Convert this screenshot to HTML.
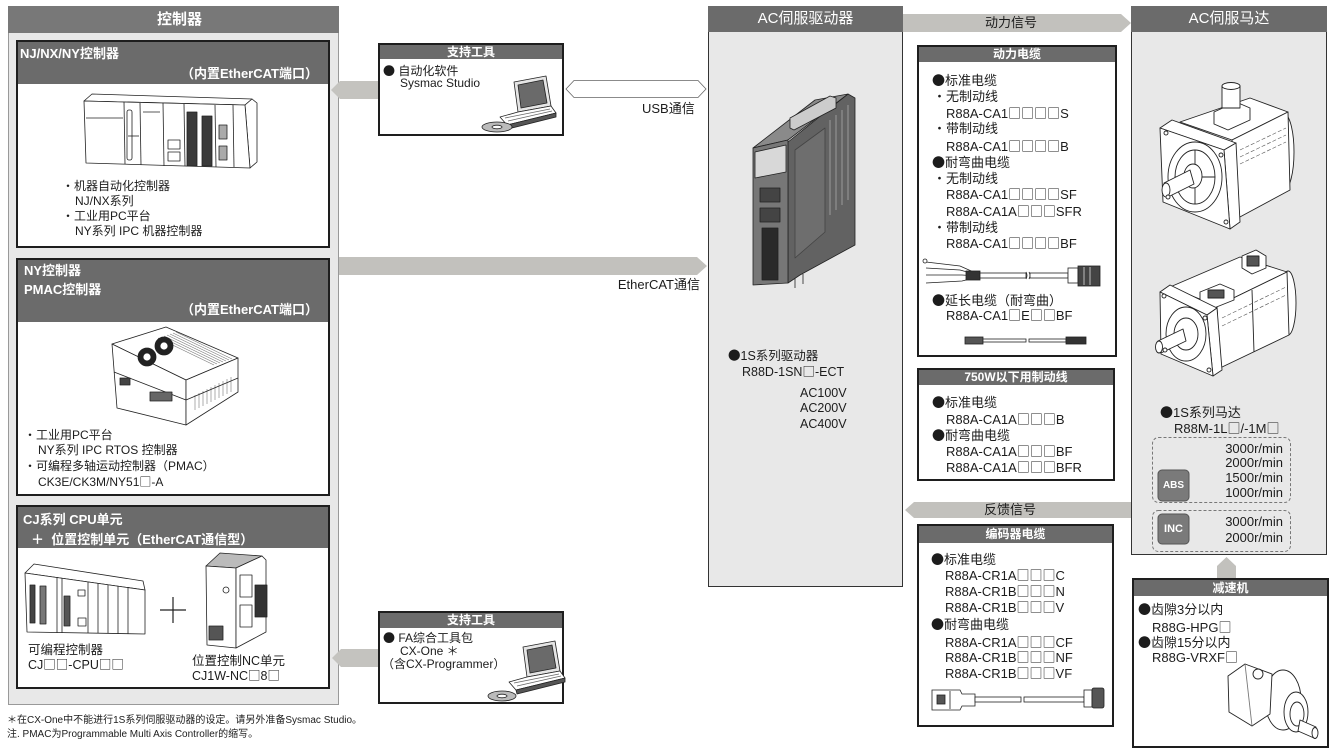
<!DOCTYPE html>
<html><head><meta charset="utf-8">
<style>
*{margin:0;padding:0;box-sizing:border-box}
html,body{width:1340px;height:754px;overflow:hidden;background:#fff}
body{position:relative;font-family:"Liberation Sans","Noto Sans CJK SC",sans-serif;color:#1c1c1c}
svg{position:absolute;left:0;top:0}
.t{position:absolute;white-space:nowrap;font-size:13px;line-height:16px}
.s{font-size:12px;line-height:15px}
.d{font-size:12.5px;line-height:16px}
.w{color:#fff;font-weight:bold}
.h{position:absolute;color:#fff;font-weight:bold;text-align:center;font-size:12px;white-space:nowrap}
.b{font-family:"Noto Sans CJK SC",sans-serif}
.f{font-size:10px;line-height:12px}
</style></head><body>
<svg width="1340" height="754" viewBox="0 0 1340 754">
<!-- controller panel -->
<rect x="8.5" y="6.5" width="330" height="698" fill="#e8e8e8" stroke="#999"/>
<rect x="8" y="6" width="331" height="27" fill="#787878"/>
<rect x="17" y="41" width="312" height="206" fill="#fff" stroke="#1e1e1e" stroke-width="2"/>
<rect x="18" y="42" width="310" height="42" fill="#6b6b6b"/>
<rect x="17" y="259" width="312" height="236" fill="#fff" stroke="#1e1e1e" stroke-width="2"/>
<rect x="18" y="260" width="310" height="62" fill="#6b6b6b"/>
<rect x="17" y="506" width="312" height="182" fill="#fff" stroke="#1e1e1e" stroke-width="2"/>
<rect x="18" y="507" width="310" height="41" fill="#6b6b6b"/>

<!-- arrows -->
<polygon points="331,90 340,81 380,81 380,99 340,99" fill="#c4c3bf"/>
<polygon points="566,89 574,80.5 698,80.5 706,89 698,97.5 574,97.5" fill="#fff" stroke="#666" stroke-width="0.8"/>
<polygon points="339,257 697,257 707,266 697,275 339,275" fill="#c2c1bd"/>
<polygon points="332,658 341,649 380,649 380,667 341,667" fill="#c4c3bf"/>
<polygon points="903,14 1121,14 1131,23 1121,32 903,32" fill="#c2c1bd"/>
<polygon points="905,510 914,502 1131,502 1131,518 914,518" fill="#c2c1bd"/>
<polygon points="1217,579 1217,566 1226.5,557 1236,566 1236,579" fill="#c2c1bd"/>

<!-- support boxes -->
<rect x="379" y="44" width="184" height="91" fill="#fff" stroke="#1e1e1e" stroke-width="2"/>
<rect x="380" y="45" width="182" height="14" fill="#6b6b6b"/>
<rect x="379" y="612" width="184" height="91" fill="#fff" stroke="#1e1e1e" stroke-width="2"/>
<rect x="380" y="613" width="182" height="15" fill="#6b6b6b"/>

<!-- drive panel -->
<rect x="708.5" y="6.5" width="194" height="580" fill="#e8e8e8" stroke="#333"/>
<rect x="708" y="6" width="195" height="26" fill="#6b6b6b"/>

<!-- cable boxes -->
<rect x="918" y="46" width="198" height="310" fill="#fff" stroke="#1e1e1e" stroke-width="2"/>
<rect x="919" y="47" width="196" height="15" fill="#6b6b6b"/>
<rect x="918" y="369" width="196" height="111" fill="#fff" stroke="#1e1e1e" stroke-width="2"/>
<rect x="919" y="370" width="194" height="15" fill="#6b6b6b"/>
<rect x="918" y="525" width="195" height="201" fill="#fff" stroke="#1e1e1e" stroke-width="2"/>
<rect x="919" y="526" width="193" height="17" fill="#6b6b6b"/>

<!-- motor panel -->
<rect x="1131.5" y="6.5" width="195" height="548" fill="#e8e8e8" stroke="#333"/>
<rect x="1131" y="6" width="196" height="26" fill="#6b6b6b"/>
<rect x="1152.5" y="437.5" width="138" height="65" rx="6" fill="none" stroke="#777" stroke-dasharray="3,2"/>
<rect x="1152.5" y="510.5" width="138" height="41" rx="6" fill="none" stroke="#777" stroke-dasharray="3,2"/>
<rect x="1158" y="470" width="31" height="31" rx="4" fill="#7a7a7a" stroke="#555"/>
<rect x="1158" y="514" width="31" height="30" rx="4" fill="#7a7a7a" stroke="#555"/>

<!-- reducer box -->
<rect x="1133" y="579" width="195" height="168" fill="#fff" stroke="#1e1e1e" stroke-width="2"/>
<rect x="1134" y="580" width="193" height="16" fill="#6b6b6b"/>

<!-- NJ controller image -->
<g stroke="#222" stroke-width="0.8" fill="#fff" stroke-linejoin="round">
 <polygon points="84,101 92,94 252,99 245,105"/>
 <polygon points="245,105 252,99 257,103 257,162 250,168"/>
 <polygon points="84,101 245,105 250,168 86,163"/>
 <line x1="124" y1="102" x2="125" y2="164"/>
 <line x1="140" y1="103" x2="141" y2="165"/>
 <line x1="163" y1="103" x2="164" y2="166"/>
 <line x1="184" y1="104" x2="185" y2="166"/>
 <line x1="215" y1="105" x2="216" y2="167"/>
 <line x1="233" y1="105" x2="234" y2="167"/>
 <rect x="127" y="110" width="5" height="50" rx="2"/>
 <rect x="187" y="112" width="10" height="54" fill="#3a3a3a"/>
 <rect x="202" y="116" width="10" height="50" fill="#3a3a3a"/>
 <rect x="219" y="125" width="8" height="14" fill="#aaa"/>
 <rect x="219" y="146" width="8" height="14" fill="#aaa"/>
 <rect x="168" y="140" width="12" height="9"/>
 <rect x="168" y="152" width="12" height="9"/>
 <line x1="86" y1="118" x2="123" y2="118"/>
 <line x1="128" y1="136" x2="139" y2="136"/>
 <line x1="143" y1="112" x2="160" y2="112"/>
</g>

<!-- NY PMAC image -->
<g stroke="#222" stroke-width="0.8" fill="#fff" stroke-linejoin="round">
 <polygon points="112,344 166,327 238,358 186,380"/>
 <polygon points="112,344 186,380 186,425 117,408"/>
 <polygon points="186,380 238,358 238,392 186,425"/>
 <g stroke="#777" stroke-width="0.6">
  <line x1="158" y1="338" x2="214" y2="365"/>
  <line x1="161" y1="337" x2="217" y2="364"/>
  <line x1="164" y1="336" x2="220" y2="363"/>
  <line x1="167" y1="335" x2="223" y2="362"/>
  <line x1="170" y1="334" x2="226" y2="361"/>
  <line x1="173" y1="333" x2="229" y2="360"/>
  <line x1="176" y1="332" x2="232" y2="359"/>
  <line x1="195" y1="395" x2="195" y2="410"/>
  <line x1="199" y1="393" x2="199" y2="408"/>
  <line x1="203" y1="391" x2="203" y2="406"/>
  <line x1="207" y1="389" x2="207" y2="404"/>
  <line x1="211" y1="387" x2="211" y2="402"/>
  <line x1="215" y1="385" x2="215" y2="400"/>
  <line x1="219" y1="383" x2="219" y2="398"/>
  <line x1="223" y1="381" x2="223" y2="396"/>
  <line x1="227" y1="379" x2="227" y2="394"/>
  <line x1="231" y1="377" x2="231" y2="392"/>
 </g>
 <line x1="114" y1="372" x2="186" y2="400"/>
 <line x1="186" y1="400" x2="238" y2="378"/>
 <rect x="120" y="378" width="10" height="7" fill="#444"/>
 <rect x="150" y="392" width="22" height="9" fill="#666"/>
 <circle cx="147" cy="357" r="9" fill="#222"/><circle cx="147" cy="357" r="4" fill="#fff"/>
 <circle cx="164" cy="346" r="9" fill="#222"/><circle cx="164" cy="346" r="4" fill="#fff"/>
</g>

<!-- CJ PLC image -->
<g stroke="#222" stroke-width="0.8" fill="#fff" stroke-linejoin="round">
 <polygon points="25,573 34,564 143,581 145,590"/>
 <polygon points="25,573 145,590 145,634 27,632"/>
 <line x1="57" y1="577" x2="57" y2="633"/>
 <line x1="62" y1="578" x2="62" y2="633"/>
 <line x1="88" y1="582" x2="88" y2="633"/>
 <line x1="98" y1="583" x2="98" y2="633"/>
 <line x1="108" y1="585" x2="108" y2="633"/>
 <line x1="118" y1="586" x2="118" y2="634"/>
 <line x1="128" y1="587" x2="128" y2="634"/>
 <rect x="30" y="585" width="5" height="38" fill="#444"/>
 <rect x="40" y="586" width="6" height="38" fill="#777"/>
 <rect x="64" y="596" width="6" height="30" fill="#555"/>
 <rect x="78" y="590" width="7" height="6"/>
 <rect x="78" y="618" width="8" height="8"/>
</g>
<line x1="160" y1="610" x2="186" y2="610" stroke="#222" stroke-width="1.2"/>
<line x1="173" y1="597" x2="173" y2="623" stroke="#222" stroke-width="1.2"/>

<!-- NC unit image -->
<g stroke="#222" stroke-width="0.8" fill="#fff" stroke-linejoin="round">
 <polygon points="206,566 220,553 262,556 236,568" fill="#bbb"/>
 <polygon points="206,566 236,568 236,648 207,645"/>
 <polygon points="236,568 262,556 266,560 266,632 236,648"/>
 <rect x="255" y="585" width="12" height="32" fill="#333"/>
 <rect x="209" y="626" width="14" height="14" fill="#555"/>
 <circle cx="226" cy="590" r="3"/>
 <rect x="240" y="575" width="12" height="22"/>
 <rect x="240" y="605" width="12" height="22"/>
</g>

<!-- laptop 1 -->
<g stroke="#222" stroke-width="0.8" stroke-linejoin="round">
 <polygon points="514,82 546,76 551,106 518,112" fill="#e5e5e5"/>
 <polygon points="518,85 543,80 547,103 521,108" fill="#6a6a6a"/>
 <polygon points="500,117 518,112 551,106 556,113 507,125" fill="#fff"/>
 <polygon points="507,125 556,113 556,117 508,129" fill="#555"/>
 <line x1="505" y1="118" x2="550" y2="109" stroke="#666"/>
 <line x1="508" y1="121" x2="552" y2="111" stroke="#666"/>
 <ellipse cx="497" cy="127" rx="15" ry="5" fill="#bbb"/>
 <ellipse cx="497" cy="127" rx="5" ry="1.8" fill="#fff"/>
</g>
<!-- laptop 2 -->
<g stroke="#222" stroke-width="0.8" stroke-linejoin="round" transform="translate(9,565)">
 <polygon points="514,82 546,76 551,106 518,112" fill="#e5e5e5"/>
 <polygon points="518,85 543,80 547,103 521,108" fill="#6a6a6a"/>
 <polygon points="500,117 518,112 551,106 556,113 507,125" fill="#fff"/>
 <polygon points="507,125 556,113 556,117 508,129" fill="#555"/>
 <line x1="505" y1="118" x2="550" y2="109" stroke="#666"/>
 <line x1="508" y1="121" x2="552" y2="111" stroke="#666"/>
</g>
<g stroke="#222" stroke-width="0.8">
 <ellipse cx="502" cy="696" rx="14" ry="5" fill="#bbb"/>
 <ellipse cx="502" cy="696" rx="5" ry="1.8" fill="#fff"/>
</g>

<!-- servo drive -->
<g stroke="#222" stroke-width="0.8" stroke-linejoin="round">
 <polygon points="788,142 848,94 855,98 855,245 800,275 788,283" fill="#626262"/>
 <polygon points="753,148 788,140 848,94 815,100" fill="#8a8a8a"/>
 <polygon points="753,148 788,140 788,283 753,285" fill="#777"/>
 <polygon points="755,152 786,145 786,172 755,178" fill="#d8d8d8"/>
 <rect x="760" y="188" width="20" height="14" fill="#444"/>
 <rect x="760" y="208" width="20" height="14" fill="#444"/>
 <rect x="762" y="228" width="16" height="52" fill="#2a2a2a"/>
 <polygon points="795,150 825,128 825,232 795,258" fill="#6e6e6e" stroke="#444"/>
 <g stroke="#aaa" stroke-width="0.8">
  <line x1="830" y1="120" x2="830" y2="215"/>
  <line x1="836" y1="115" x2="836" y2="210"/>
  <line x1="842" y1="110" x2="842" y2="205"/>
  <line x1="848" y1="105" x2="848" y2="200"/>
 </g>
 <polygon points="790,118 830,96 836,98 836,108 794,130 790,128" fill="#ccc"/>
 <line x1="795" y1="278" x2="795" y2="288"/>
 <line x1="803" y1="274" x2="803" y2="284"/>
</g>

<!-- power cable -->
<g stroke="#222" stroke-width="0.8" fill="#fff">
 <path d="M926,262 L960,266 L978,274 M926,268 L960,270 L978,275 M926,275 L962,275 L978,276 M926,283 L962,281 L978,277" fill="none"/>
 <circle cx="925" cy="261" r="2"/>
 <rect x="966" y="271" width="14" height="9" fill="#333"/>
 <rect x="980" y="273" width="46" height="5"/>
 <path d="M1026,272 q2,3.5 0,7 M1029,272 q2,3.5 0,7" fill="none"/>
 <rect x="1030" y="273" width="38" height="5"/>
 <rect x="1068" y="268" width="10" height="15"/>
 <rect x="1078" y="266" width="22" height="20" fill="#444"/>
 <line x1="1084" y1="267" x2="1084" y2="285" stroke="#ddd"/>
 <line x1="1090" y1="267" x2="1090" y2="285" stroke="#ddd"/>
</g>
<!-- extension cable -->
<g stroke="#222" stroke-width="0.8" fill="#fff">
 <rect x="965" y="337" width="18" height="7" fill="#555"/>
 <rect x="983" y="339" width="43" height="3"/>
 <rect x="1029" y="339" width="37" height="3"/>
 <rect x="1066" y="337" width="20" height="7" fill="#333"/>
</g>
<!-- encoder cable -->
<g stroke="#222" stroke-width="0.8" fill="#fff">
 <polygon points="932,690 960,690 962,694 975,694 975,706 962,706 960,710 932,710"/>
 <rect x="937" y="695" width="8" height="9" fill="#555"/>
 <line x1="950" y1="691" x2="950" y2="709"/>
 <rect x="975" y="697" width="46" height="5"/>
 <rect x="1024" y="697" width="60" height="5"/>
 <rect x="1084" y="690" width="8" height="17"/>
 <rect x="1092" y="688" width="12" height="20" rx="2" fill="#555"/>
</g>

<!-- motor 1 -->
<g stroke="#222" stroke-width="0.9" fill="#fff" stroke-linejoin="round">
 <ellipse cx="1284" cy="152" rx="10" ry="38"/>
 <polygon points="1180,122 1250,98 1288,112 1232,140"/>
 <polygon points="1232,140 1288,112 1290,190 1238,218"/>
 <g stroke="#555" stroke-dasharray="4,2" stroke-width="0.6">
  <line x1="1240" y1="150" x2="1286" y2="128"/>
  <line x1="1240" y1="157" x2="1286" y2="135"/>
  <line x1="1240" y1="164" x2="1286" y2="142"/>
 </g>
 <polygon points="1214,112 1236,102 1250,108 1250,120 1228,130 1214,124"/>
 <rect x="1222" y="86" width="18" height="22"/>
 <ellipse cx="1231" cy="86" rx="9" ry="3.5"/>
 <polygon points="1160,128 1172,120 1236,143 1224,150"/>
 <polygon points="1224,150 1236,143 1240,222 1230,229"/>
 <polygon points="1160,128 1224,150 1230,229 1163,202"/>
 <ellipse cx="1195" cy="177" rx="27" ry="35"/>
 <ellipse cx="1195" cy="177" rx="20" ry="27"/>
 <line x1="1195" y1="150" x2="1195" y2="204"/>
 <line x1="1175" y1="177" x2="1215" y2="177"/>
 <ellipse cx="1193" cy="176" rx="9" ry="12"/>
 <polygon points="1190,170 1164,183 1168,197 1194,184"/>
 <ellipse cx="1166" cy="190" rx="4" ry="7"/>
 <circle cx="1166" cy="133" r="2"/><circle cx="1221" cy="155" r="2"/>
 <circle cx="1226" cy="222" r="2"/><circle cx="1168" cy="197" r="2"/>
</g>

<!-- motor 2 -->
<g stroke="#222" stroke-width="0.9" fill="#fff" stroke-linejoin="round">
 <ellipse cx="1288" cy="303" rx="8" ry="32"/>
 <polygon points="1170,287 1240,257 1287,272 1217,306"/>
 <polygon points="1217,306 1287,272 1289,335 1220,368"/>
 <line x1="1252" y1="290" x2="1254" y2="352"/>
 <g stroke="#555" stroke-dasharray="4,2" stroke-width="0.6">
  <line x1="1222" y1="318" x2="1286" y2="287"/>
  <line x1="1222" y1="326" x2="1286" y2="295"/>
 </g>
 <polygon points="1242,256 1256,250 1266,256 1266,268 1252,274 1242,268"/>
 <rect x="1247" y="256" width="12" height="10" fill="#555"/>
 <polygon points="1200,292 1220,284 1234,290 1234,300 1214,308 1200,302"/>
 <rect x="1208" y="290" width="16" height="8" fill="#555"/>
 <polygon points="1160,292 1170,285 1217,308 1207,315"/>
 <polygon points="1207,315 1217,308 1222,370 1213,376"/>
 <polygon points="1160,292 1207,315 1213,376 1161,354"/>
 <ellipse cx="1186" cy="334" rx="20" ry="27"/>
 <ellipse cx="1186" cy="334" rx="12" ry="16"/>
 <polygon points="1183,329 1158,341 1161,353 1186,341"/>
 <ellipse cx="1159" cy="347" rx="3.5" ry="6"/>
 <circle cx="1164" cy="296" r="2"/><circle cx="1205" cy="318" r="2"/>
 <circle cx="1209" cy="370" r="2"/><circle cx="1165" cy="350" r="2"/>
</g>

<!-- reducer -->
<g stroke="#222" stroke-width="0.9" fill="#fff" stroke-linejoin="round">
 <ellipse cx="1283" cy="700" rx="18" ry="30"/>
 <polygon points="1228,676 1245,664 1272,674 1270,714 1252,726 1229,712"/>
 <line x1="1245" y1="664" x2="1252" y2="726" stroke="#777"/>
 <circle cx="1258" cy="674" r="5"/>
 <ellipse cx="1296" cy="712" rx="12" ry="20"/>
 <ellipse cx="1297" cy="714" rx="7" ry="12"/>
 <polygon points="1300,720 1316,727 1314,738 1298,731"/>
 <ellipse cx="1315" cy="733" rx="3" ry="5.5"/>
</g>
</svg>

<!-- Controller texts -->
<div class="t w" style="left:157px;top:6px;font-size:15px;line-height:27px">控制器</div>
<div class="t w" style="left:20px;top:46px">NJ/NX/NY控制器</div>
<div class="t w" style="right:1022px;top:66px">（内置EtherCAT端口）</div>
<div class="t s" style="left:62px;top:179px">・机器自动化控制器</div>
<div class="t s" style="left:75px;top:194px">NJ/NX系列</div>
<div class="t s" style="left:62px;top:209px">・工业用PC平台</div>
<div class="t s" style="left:75px;top:224px">NY系列 IPC 机器控制器</div>

<div class="t w" style="left:24px;top:263px">NY控制器</div>
<div class="t w" style="left:24px;top:282px">PMAC控制器</div>
<div class="t w" style="right:1022px;top:302px">（内置EtherCAT端口）</div>
<div class="t s" style="left:24px;top:428px">・工业用PC平台</div>
<div class="t s" style="left:38px;top:443px">NY系列 IPC RTOS 控制器</div>
<div class="t s" style="left:24px;top:459px">・可编程多轴运动控制器（PMAC）</div>
<div class="t s" style="left:38px;top:474px">CK3E/CK3M/NY51<span class="b">□</span>-A</div>

<div class="t w" style="left:23px;top:512px">CJ系列 CPU单元</div>
<div class="t w" style="left:31px;top:532px">＋&nbsp;&nbsp;位置控制单元（EtherCAT通信型）</div>
<div class="t d" style="left:28px;top:642px">可编程控制器</div>
<div class="t d" style="left:28px;top:656px">CJ<span class="b">□□</span>-CPU<span class="b">□□</span></div>
<div class="t d" style="left:192px;top:653px">位置控制NC单元</div>
<div class="t d" style="left:192px;top:667px">CJ1W-NC<span class="b">□</span>8<span class="b">□</span></div>

<div class="t f" style="left:7px;top:715px">＊在CX-One中不能进行1S系列伺服驱动器的设定。请另外准备Sysmac Studio。</div>
<div class="t f" style="left:7px;top:729px">注. PMAC为Programmable Multi Axis Controller的缩写。</div>

<!-- support tools -->
<div class="h" style="left:379px;width:184px;top:45px;line-height:14px">支持工具</div>
<div class="t s" style="left:383px;top:64px;line-height:13px"><span class="b">●</span> 自动化软件</div>
<div class="t s" style="left:400px;top:77px;line-height:13px">Sysmac Studio</div>
<div class="h" style="left:379px;width:184px;top:613px;line-height:15px">支持工具</div>
<div class="t s" style="left:383px;top:631px;line-height:13px"><span class="b">●</span> FA综合工具包</div>
<div class="t s" style="left:400px;top:645px;line-height:13px">CX-One ＊</div>
<div class="t s" style="left:382px;top:658px;line-height:13px">（含CX-Programmer）</div>

<div class="t" style="left:642px;top:101px">USB通信</div>
<div class="t" style="right:640px;top:277px">EtherCAT通信</div>

<!-- drive -->
<div class="t" style="left:708px;width:195px;top:6px;line-height:26px;font-size:15px;color:#fff;text-align:center">AC伺服驱动器</div>
<div class="t d" style="left:728px;top:347px"><span class="b">●</span>1S系列驱动器</div>
<div class="t d" style="left:742px;top:363px">R88D-1SN<span class="b">□</span>-ECT</div>
<div class="t d" style="left:800px;top:385px">AC100V</div>
<div class="t d" style="left:800px;top:400px">AC200V</div>
<div class="t d" style="left:800px;top:416px">AC400V</div>

<!-- signals -->
<div class="t" style="left:985px;top:15px">动力信号</div>
<div class="t" style="left:984px;top:502px">反馈信号</div>

<!-- power cable -->
<div class="h" style="left:918px;width:198px;top:47px;line-height:15px">动力电缆</div>
<div class="t" style="left:932px;top:72px"><span class="b">●</span>标准电缆</div>
<div class="t" style="left:933px;top:89px">・无制动线</div>
<div class="t" style="left:946px;top:105px">R88A-CA1<span class="b">□□□□</span>S</div>
<div class="t" style="left:933px;top:121px">・带制动线</div>
<div class="t" style="left:946px;top:138px">R88A-CA1<span class="b">□□□□</span>B</div>
<div class="t" style="left:932px;top:154px"><span class="b">●</span>耐弯曲电缆</div>
<div class="t" style="left:933px;top:171px">・无制动线</div>
<div class="t" style="left:946px;top:186px">R88A-CA1<span class="b">□□□□</span>SF</div>
<div class="t" style="left:946px;top:203px">R88A-CA1A<span class="b">□□□</span>SFR</div>
<div class="t" style="left:933px;top:220px">・带制动线</div>
<div class="t" style="left:946px;top:235px">R88A-CA1<span class="b">□□□□</span>BF</div>
<div class="t" style="left:932px;top:292px"><span class="b">●</span>延长电缆（耐弯曲）</div>
<div class="t" style="left:946px;top:307px">R88A-CA1<span class="b">□</span>E<span class="b">□□</span>BF</div>

<!-- 750W -->
<div class="h" style="left:918px;width:196px;top:370px;line-height:15px">750W以下用制动线</div>
<div class="t" style="left:932px;top:394px"><span class="b">●</span>标准电缆</div>
<div class="t" style="left:946px;top:411px">R88A-CA1A<span class="b">□□□</span>B</div>
<div class="t" style="left:932px;top:427px"><span class="b">●</span>耐弯曲电缆</div>
<div class="t" style="left:946px;top:443px">R88A-CA1A<span class="b">□□□</span>BF</div>
<div class="t" style="left:946px;top:459px">R88A-CA1A<span class="b">□□□</span>BFR</div>

<!-- encoder -->
<div class="h" style="left:918px;width:195px;top:526px;line-height:17px">编码器电缆</div>
<div class="t" style="left:931px;top:551px"><span class="b">●</span>标准电缆</div>
<div class="t" style="left:945px;top:567px">R88A-CR1A<span class="b">□□□</span>C</div>
<div class="t" style="left:945px;top:583px">R88A-CR1B<span class="b">□□□</span>N</div>
<div class="t" style="left:945px;top:599px">R88A-CR1B<span class="b">□□□</span>V</div>
<div class="t" style="left:931px;top:616px"><span class="b">●</span>耐弯曲电缆</div>
<div class="t" style="left:945px;top:634px">R88A-CR1A<span class="b">□□□</span>CF</div>
<div class="t" style="left:945px;top:649px">R88A-CR1B<span class="b">□□□</span>NF</div>
<div class="t" style="left:945px;top:665px">R88A-CR1B<span class="b">□□□</span>VF</div>

<!-- motor -->
<div class="t" style="left:1131px;width:196px;top:6px;line-height:26px;font-size:15px;color:#fff;text-align:center">AC伺服马达</div>
<div class="t" style="left:1160px;top:404px"><span class="b">●</span>1S系列马达</div>
<div class="t" style="left:1174px;top:420px">R88M-1L<span class="b">□</span>/-1M<span class="b">□</span></div>
<div class="t" style="right:57px;top:441px">3000r/min</div>
<div class="t" style="right:57px;top:455px">2000r/min</div>
<div class="t" style="right:57px;top:470px">1500r/min</div>
<div class="t" style="right:57px;top:485px">1000r/min</div>
<div class="t" style="right:57px;top:514px">3000r/min</div>
<div class="t" style="right:57px;top:530px">2000r/min</div>
<div class="t" style="left:1158px;width:31px;top:478px;font-size:10px;line-height:16px;color:#fff;font-weight:bold;text-align:center">ABS</div>
<div class="t" style="left:1158px;width:31px;top:521px;font-size:11px;line-height:16px;color:#fff;font-weight:bold;text-align:center">INC</div>

<!-- reducer -->
<div class="h" style="left:1133px;width:195px;top:580px;line-height:16px">减速机</div>
<div class="t" style="left:1138px;top:601px"><span class="b">●</span>齿隙3分以内</div>
<div class="t" style="left:1152px;top:619px">R88G-HPG<span class="b">□</span></div>
<div class="t" style="left:1138px;top:634px"><span class="b">●</span>齿隙15分以内</div>
<div class="t" style="left:1152px;top:649px">R88G-VRXF<span class="b">□</span></div>
</body></html>
